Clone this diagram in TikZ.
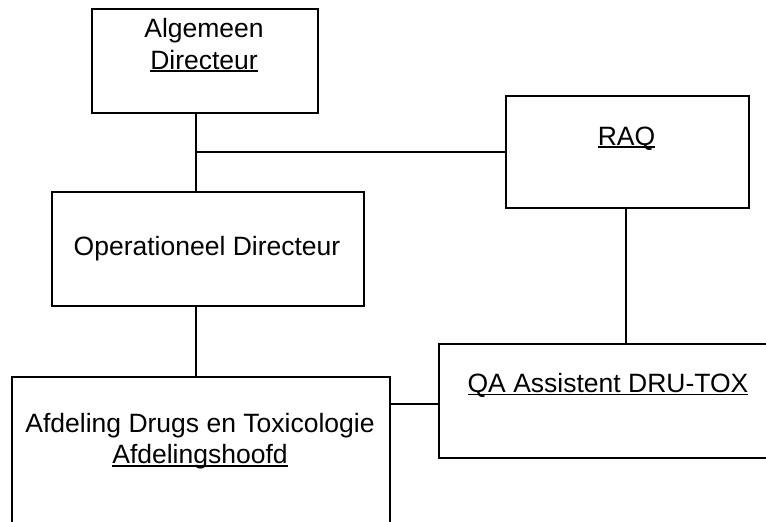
\documentclass[tikz,border=0pt]{standalone}
\usepackage{fontspec}
\setmainfont{Liberation Sans}
\newcommand\myul[1]{\setbox0=\hbox{#1}\hbox{\rlap{\rule[-0.11em]{\wd0}{0.07em}}\box0}}
\tikzset{
  box/.style={draw, inner sep=0pt, anchor=north west},
  lbl/.style={font=\fontsize{26.5}{31.5}\selectfont, inner sep=0pt, align=center},
  conn/.style={draw}
}
\begin{document}
\begin{tikzpicture}[x=1pt, y=-1pt, line width=1.8pt]
\useasboundingbox (0,0) rectangle (766,522);
\clip (0,0) rectangle (766,522);
% boxes
\node[box, minimum width=226pt, minimum height=104pt] (A) at (91,8) {};
\node[box, minimum width=243pt, minimum height=112pt] (R) at (505,95) {};
\node[box, minimum width=312pt, minimum height=114pt] (O) at (51,191) {};
\node[box, minimum width=340pt, minimum height=114pt] (Q) at (438,343) {};
\node[box, minimum width=378pt, minimum height=170pt] (F) at (11,376) {};
% labels
\node[lbl] (tA) at (204,45.4) {Algemeen\\\myul{Directeur}};
\node[lbl, anchor=base] (tR) at (626.5,145) {\myul{RAQ}};
\node[lbl, anchor=base] (tO) at (207,255) {Operationeel Directeur};
\node[lbl, anchor=base] (tQ) at (608,392.5) {\myul{QA Assistent DRU-TOX}};
\node[lbl] (tF) at (200,441) {Afdeling Drugs en Toxicologie\\\myul{Afdelingshoofd}};
% connectors
\coordinate (j) at (196,152);
\coordinate (k) at (389,404);
\coordinate (m) at (626,300);
\draw[conn] (A.south -| j) -- (O.north -| j);
\draw[conn] (j) -- (j -| R.west);
\draw[conn] (O.south -| j) -- (F.north -| j);
\draw[conn] (R.south -| m) -- (Q.north -| m);
\draw[conn] (k -| F.east) -- (k -| Q.west);
\end{tikzpicture}
\end{document}
